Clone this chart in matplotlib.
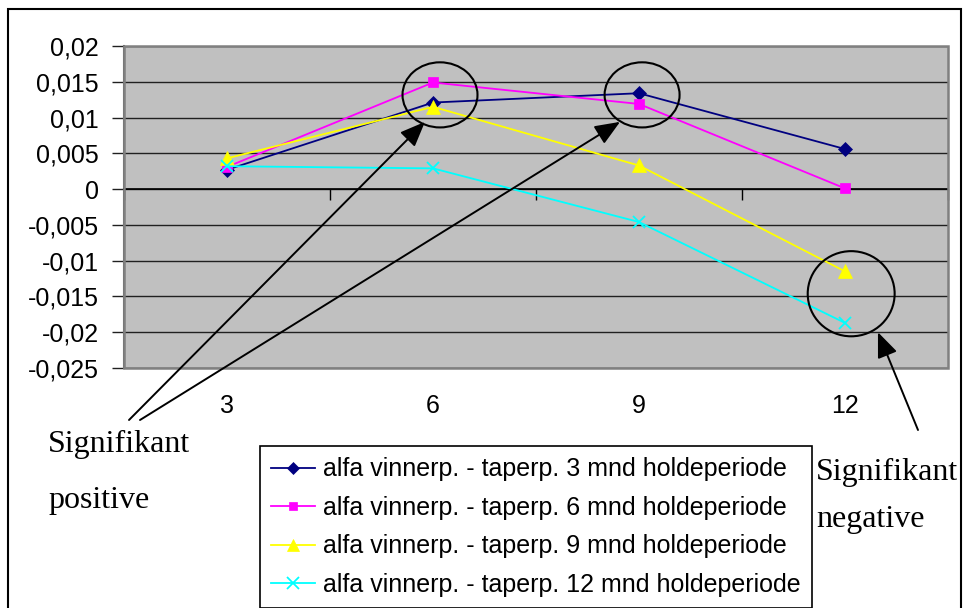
import matplotlib
matplotlib.use("Agg")
import matplotlib.pyplot as plt
from matplotlib.patches import Ellipse, Rectangle
from matplotlib.transforms import blended_transform_factory

# Holding periods (months) on the category axis
periods = ["3", "6", "9", "12"]

# Alpha of winner minus loser portfolio, one series per holding period
alfa_3mnd = [0.0027, 0.0121, 0.0134, 0.0056]
alfa_6mnd = [0.0031, 0.0149, 0.0119, 0.0001]
alfa_9mnd = [0.0043, 0.0115, 0.0033, -0.0115]
alfa_12mnd = [0.0032, 0.0029, -0.0046, -0.0187]

series_labels = [
    "alfa vinnerp. - taperp. 3 mnd holdeperiode",
    "alfa vinnerp. - taperp. 6 mnd holdeperiode",
    "alfa vinnerp. - taperp. 9 mnd holdeperiode",
    "alfa vinnerp. - taperp. 12 mnd holdeperiode",
]

y_ticks = [0.02, 0.015, 0.01, 0.005, 0, -0.005, -0.01, -0.015, -0.02, -0.025]
y_tick_labels = ["0,02", "0,015", "0,01", "0,005", "0", "-0,005", "-0,01",
                 "-0,015", "-0,02", "-0,025"]

W, H = 963, 608


def fx(px):
    return px / W


def fy(py):
    return 1 - py / H


fig = plt.figure(figsize=(W / 100, H / 100), dpi=100)
fig.patch.set_facecolor("white")

ax = fig.add_axes([fx(124), fy(368), fx(948) - fx(124), fy(46) - fy(368)])
ax.set_facecolor("#C0C0C0")

xs = list(range(len(periods)))
styles = [
    (alfa_3mnd, "#000080", "D", 7, "#000080"),
    (alfa_6mnd, "#FF00FF", "s", 7, "#FF00FF"),
    (alfa_9mnd, "#FFFF00", "^", 9.5, "#FFFF00"),
    (alfa_12mnd, "#00FFFF", "x", 9, "#00FFFF"),
]
handles = []
for (vals, col, mk, ms, mcol), lab in zip(styles, series_labels):
    h, = ax.plot(xs, vals, color=col, lw=1.3, marker=mk, ms=ms,
                 markerfacecolor=mcol, markeredgecolor=mcol,
                 markeredgewidth=1.3 if mk == "x" else 0.5, label=lab,
                 zorder=5, clip_on=False)
    handles.append(h)

ax.set_xlim(-0.5, len(periods) - 0.5)
ax.set_ylim(-0.025, 0.02)

# Value axis
ax.set_yticks(y_ticks)
ax.set_yticklabels(y_tick_labels, fontsize=18, fontfamily="Liberation Sans")
ax.tick_params(axis="y", length=9, width=1, color="#202020", pad=9)
ax.yaxis.grid(True, color="#202020", lw=1)
ax.set_axisbelow(True)

# Category axis crosses at zero, tick marks between categories
ax.spines["bottom"].set_position(("data", 0))
ax.spines["bottom"].set_color("black")
ax.spines["bottom"].set_linewidth(1.2)
ax.set_xticks([i - 0.5 for i in range(len(periods) + 1)])
ax.set_xticklabels([])
ax.tick_params(axis="x", direction="out", length=8, width=1, color="black")
for s in ["top", "right"]:
    ax.spines[s].set_visible(False)
ax.spines["left"].set_color("#606060")
ax.spines["left"].set_linewidth(1.5)

# Plot area border
ax.add_patch(Rectangle((0, 0), 1, 1, transform=ax.transAxes, fill=False,
                       edgecolor="#808080", lw=1.8, clip_on=False, zorder=3))

# Category labels below the plot area
tr = blended_transform_factory(ax.transData, ax.transAxes)
for i, lab in enumerate(periods):
    ax.text(i, -0.117, lab, transform=tr, ha="center", va="center",
            fontsize=18, fontfamily="Liberation Sans")

# Circles marking significant alphas
for cx, cy, w, h in [(1.034, 0.01317, 0.364, 0.0091),
                     (2.015, 0.01317, 0.364, 0.0091),
                     (3.03, -0.01462, 0.422, 0.0119)]:
    ax.add_patch(Ellipse((cx, cy), w, h, fill=False, edgecolor="black",
                         lw=1.5, zorder=6, clip_on=False))

arrow_kw = dict(arrowstyle="-|>,head_length=1.1,head_width=0.45",
                color="black", lw=1.4, mutation_scale=14, shrinkA=0, shrinkB=0)
ax.annotate("", xy=(0.961, 0.0094), xycoords="data",
            xytext=(fx(129), fy(420)), textcoords="figure fraction",
            arrowprops=arrow_kw, annotation_clip=False, zorder=7)
ax.annotate("", xy=(1.908, 0.0094), xycoords="data",
            xytext=(fx(140), fy(420)), textcoords="figure fraction",
            arrowprops=arrow_kw, annotation_clip=False, zorder=7)
ax.annotate("", xy=(3.16, -0.0200), xycoords="data",
            xytext=(fx(918), fy(430)), textcoords="figure fraction",
            arrowprops=arrow_kw, annotation_clip=False, zorder=7)

serif = dict(fontfamily="Liberation Serif", fontsize=23, color="black",
             va="baseline", ha="left")
fig.text(fx(48), fy(452), "Signifikant", **serif)
fig.text(fx(48), fy(508), "positive", **serif)
fig.text(fx(816), fy(480), "Signifikant", **serif)
fig.text(fx(816), fy(527), "negative", **serif)

leg = fig.legend(handles=handles, loc="upper left",
                 bbox_to_anchor=(fx(260), fy(446)),
                 prop={"family": "Liberation Sans", "size": 18},
                 frameon=True, fancybox=False, edgecolor="black",
                 framealpha=1, handlelength=1.75, handletextpad=0.32,
                 labelspacing=0.58, borderpad=0.45, borderaxespad=0,
                 markerscale=0.9)
leg.get_frame().set_linewidth(1.2)

# Outer chart frame
fig.patches.append(Rectangle((fx(8), -0.02), fx(961) - fx(8), fy(9) + 0.02,
                             transform=fig.transFigure, fill=False,
                             edgecolor="black", lw=1.5))

fig.savefig("out.png", dpi=100)
